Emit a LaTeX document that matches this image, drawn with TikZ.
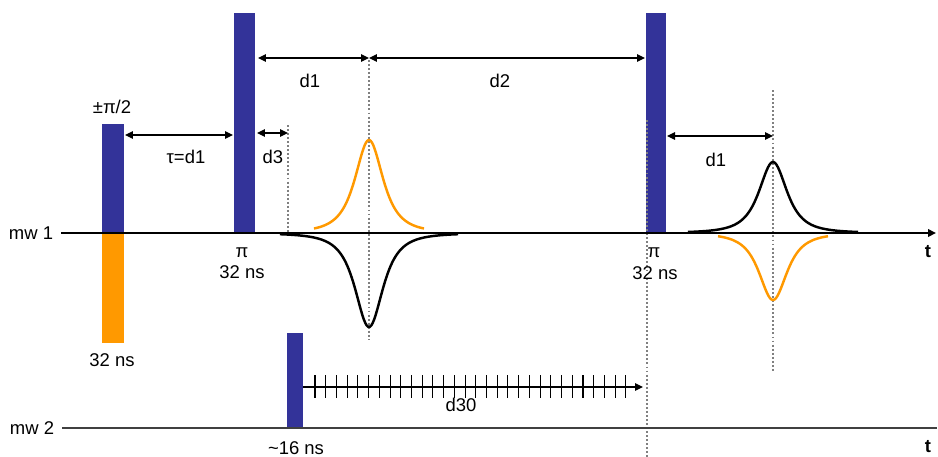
\documentclass[tikz,border=0pt]{standalone}
\usepackage{fontspec}
\setmainfont{Liberation Sans}
\usetikzlibrary{arrows.meta}
\definecolor{pulseblue}{HTML}{333399}
\definecolor{pulseorange}{HTML}{FF9900}
\tikzset{
  lbl/.style={font=\fontsize{10.5}{12}\selectfont, inner sep=0pt},
  tip/.style={-{Triangle[length=1.6mm,width=1.5mm]}},
  dim/.style={{Triangle[length=1.6mm,width=1.5mm]}-{Triangle[length=1.6mm,width=1.5mm]}, line width=0.7pt},
  guide/.style={black!50, line width=1.3pt, dash pattern=on 1.1pt off 1.2pt},
  echo/.style={line width=1.4pt},
}
\begin{document}
\begin{tikzpicture}[x=0.02cm,y=-0.02cm]
\useasboundingbox (0,0) rectangle (938,457);
% pulses
\fill[pulseblue] (102,124) rectangle (124,233);
\fill[pulseorange] (102,233) rectangle (124,343);
\fill[pulseblue] (234,13) rectangle (255,233);
\fill[pulseblue] (646,13) rectangle (666,233);
\fill[pulseblue] (287,333) rectangle (303,428);
% guides
\draw[guide] (288,125) -- (288,233);
\draw[guide] (369,60) -- (369,340);
\draw[guide] (647,120) -- (647,457);
\draw[guide] (773,90) -- (773,372);
% channels
\node[lbl, inner xsep=4.5pt] (mw1) at (31,233) {mw 1};
\node[lbl, inner xsep=4.5pt] (mw2) at (32,428) {mw 2};
\coordinate (end1) at (936,233);
\coordinate (end2) at (937,428);
\draw[line width=1.2pt, tip] (mw1.east) -- (end1);
\draw[line width=1.6pt, black!75] (mw2.east) -- (end2);
\node[lbl, font=\fontsize{10.5}{12}\selectfont\bfseries] (t1) at (928,252) {t};
\node[lbl, font=\fontsize{10.5}{12}\selectfont\bfseries] (t2) at (928,447) {t};
% echoes
\draw[echo, pulseorange] plot[domain=-55:55, samples=90] ({369+\x},{233-93*pow(1+(\x/21.5)^2,-1.5)});
\draw[echo] plot[domain=-89:89, samples=120] ({369+\x},{233+94*pow(1+(\x/21.5)^2,-1.5)});
\draw[echo] plot[domain=-85:85, samples=120] ({773+\x},{233-71*pow(1+(\x/21.5)^2,-1.5)});
\draw[echo, pulseorange] plot[domain=-55:55, samples=90] ({773+\x},{233+67*pow(1+(\x/21.5)^2,-1.5)});
% pulse labels
\node[lbl] (half) at (112,107) {±π/2};
\node[lbl] (len1) at (112,360) {32 ns};
\node[lbl] (pi1) at (242,253) {π};
\node[lbl] (len2) at (242,272) {32 ns};
\node[lbl] (pi2) at (654,253) {π};
\node[lbl] (len3) at (655,273) {32 ns};
\node[lbl] (len4) at (296,448) {\textasciitilde16 ns};
% delays
\coordinate (tauA) at (125,135);
\coordinate (tauB) at (233,135);
\coordinate (dthreeA) at (257,133);
\coordinate (dthreeB) at (288,133);
\coordinate (doneA) at (258,58);
\coordinate (doneB) at (369,58);
\coordinate (dtwoB) at (645,58);
\coordinate (dfourA) at (667,136);
\coordinate (dfourB) at (773,136);
\draw[dim] (tauA) -- (tauB);
\draw[dim] (dthreeA) -- (dthreeB);
\draw[dim] (doneA) -- (doneB);
\draw[dim] (doneB) -- (dtwoB);
\draw[dim] (dfourA) -- (dfourB);
\node[lbl] (tau) at (186,157) {τ=d1};
\node[lbl] (d3) at (273,157) {d3};
\node[lbl] (d1) at (310,81) {d1};
\node[lbl] (d2) at (500,81) {d2};
\node[lbl] (d1b) at (716,160) {d1};
% d30 sweep
\coordinate (sweepA) at (303,387);
\coordinate (sweepB) at (643,387);
\draw[line width=0.7pt, tip] (sweepA) -- (sweepB);
\foreach \i in {0,...,29}
  \draw[line width=0.6pt] ({315+\i*10.72},375) -- ++(0,23);
\node[lbl] (d30) at (461,405) {d30};
\end{tikzpicture}
\end{document}
